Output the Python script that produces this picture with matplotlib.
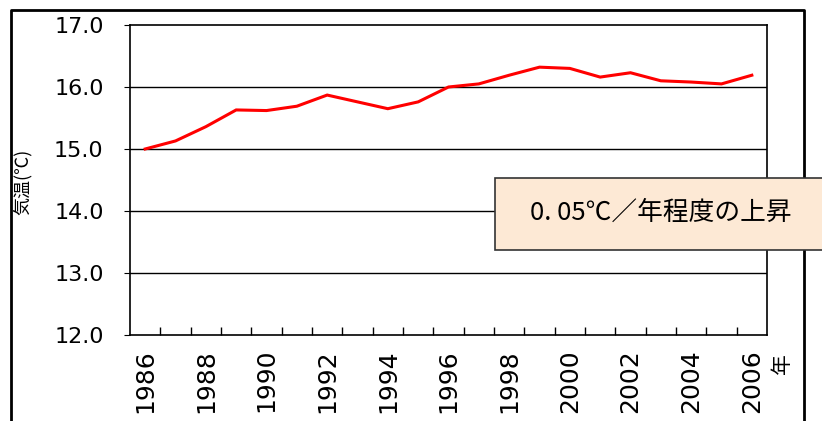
import matplotlib
matplotlib.use('Agg')
import matplotlib.pyplot as plt
from matplotlib.lines import Line2D
from matplotlib.patches import Rectangle
from matplotlib.ticker import FixedLocator

plt.rcParams['font.family'] = ['Noto Sans CJK JP', 'DejaVu Sans']

years = [1986, 1987, 1988, 1989, 1990, 1991, 1992, 1993, 1994, 1995, 1996,
         1997, 1998, 1999, 2000, 2001, 2002, 2003, 2004, 2005, 2006]
temps = [15.00, 15.13, 15.36, 15.63, 15.62, 15.69, 15.87, 15.76, 15.65, 15.76, 16.00,
         16.05, 16.19, 16.32, 16.30, 16.16, 16.23, 16.10, 16.08, 16.05, 16.19]
year_labels = [str(y) if y % 2 == 0 else '' for y in years]
y_ticks = [12.0, 13.0, 14.0, 15.0, 16.0, 17.0]

W, H = 822, 421
fig = plt.figure(figsize=(W / 100, H / 100), dpi=100)
ax = fig.add_axes([130 / W, 1 - 335 / H, 637 / W, 310 / H])

x = list(range(len(years)))
ax.plot(x, temps, color='#ff0000', linewidth=2.2, solid_joinstyle='miter')

ax.set_xlim(-0.5, len(years) - 0.5)
ax.set_ylim(12.0, 17.0)
for v in y_ticks[1:-1]:
    ax.axhline(v, color='black', linewidth=1.0, zorder=0)

ax.set_xticks(x)
ax.set_xticklabels(year_labels, rotation=90, fontsize=18, family=['DejaVu Sans'])
ax.xaxis.set_minor_locator(FixedLocator([i + 0.5 for i in x[:-1]]))
ax.tick_params(axis='x', which='major', length=0, pad=10)
ax.tick_params(axis='x', which='minor', direction='in', length=6, width=1)

ax.set_yticks(y_ticks)
ax.set_yticklabels(['%.1f' % v for v in y_ticks], fontsize=16, family=['DejaVu Sans'])
ax.tick_params(axis='y', length=4, direction='out', pad=15)

for s in ax.spines.values():
    s.set_linewidth(1.2)
    s.set_color('black')

fig.text(22 / W, 1 - 182 / H, '気温(℃)', rotation=90, fontsize=13,
         ha='center', va='center')
fig.text(782 / W, 1 - 364 / H, '年', rotation=90, fontsize=15,
         ha='center', va='center')

# outer frame (open at the bottom)
fx0, fx1, fy = 11 / W, 804 / W, 1 - 10 / H
fig.add_artist(Line2D([fx0, fx0, fx1, fx1], [0, fy, fy, 0], color='black',
                      linewidth=2, transform=fig.transFigure))

# annotation box
fig.add_artist(Rectangle((495 / W, 1 - 250 / H), 340 / W, 72 / H,
                         transform=fig.transFigure, facecolor='#fde9d5',
                         edgecolor='#333333', linewidth=1.2, zorder=5))
fig.text(661 / W, 1 - 213 / H, '0. 05℃／年程度の上昇', fontsize=18.5,
         ha='center', va='center', zorder=6)

fig.savefig('out.png', dpi=100)
